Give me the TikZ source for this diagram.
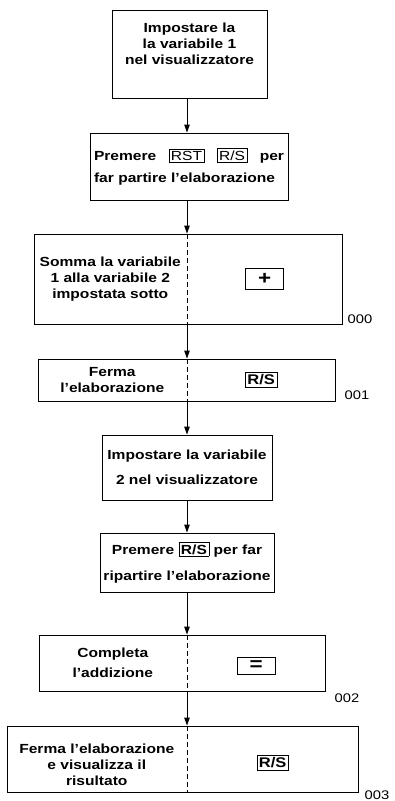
\documentclass[tikz,border=0pt]{standalone}
\usepackage{fontspec}
\setmainfont{Liberation Sans}[FakeStretch=1.18]
\usetikzlibrary{arrows.meta,calc,positioning}
\newcommand{\keybox}[1]{{\setlength{\fboxsep}{1.8pt}\setlength{\fboxrule}{0.6pt}\fbox{#1}}}
\newcommand{\bigsign}[1]{{\fontsize{19}{19}\selectfont #1}}
\tikzset{box/.style={draw,line width=0.9pt,inner sep=0pt},
  txt/.style={align=center,font=\fontsize{13.2}{16}\selectfont\bfseries,inner sep=0pt},
  keycap/.style={draw,line width=0.7pt,inner sep=2pt,font=\fontsize{14}{14}\selectfont\bfseries},
  num/.style={font=\fontsize{12.5}{12}\selectfont,inner sep=0pt,anchor=west},
  arr/.style={-{Triangle[length=8pt,width=5.5pt]},line width=1pt}}

\begin{document}
\begin{tikzpicture}[x=1pt,y=-1pt]
\useasboundingbox (0,0) rectangle (395,801);
\coordinate (axis) at (187,0);
% single boxes
\node[box,minimum width=155pt,minimum height=88pt] (b1) at (189.5,54) {};
\node[txt] (t1) at ([yshift=10pt]b1.center) {Impostare la\\la variabile 1\\nel visualizzatore};
\node[box,txt,align=left,text width=190pt,minimum width=198pt,minimum height=67pt] (b2) at (189,166.5)
  {Premere\hfill\keybox{\mdseries RST}\hfill\keybox{\mdseries R/S}\hfill per\\[6pt]far partire l'elaborazione};
\node[box,txt,minimum width=170pt,minimum height=65pt] (b5) at (187,467.5)
  {Impostare la variabile\\[9pt]2 nel visualizzatore};
\node[box,txt,minimum width=174pt,minimum height=59pt] (b6) at (187,562.5)
  {Premere \keybox{R/S} per far\\[10pt]ripartire l'elaborazione};
% split boxes
\node[box,minimum width=308pt,minimum height=90pt] (b3) at (188,279) {};
\node[box,minimum width=297pt,minimum height=42pt] (b4) at (186.5,380) {};
\node[box,minimum width=286pt,minimum height=56pt] (b7) at (182,663) {};
\node[box,minimum width=351pt,minimum height=66pt] (b8) at (182.5,759) {};
\node[txt] (t3) at ($(b3.west)!0.5!(b3.center -| axis)$) {Somma la variabile\\1 alla variabile 2\\impostata sotto};
\node[txt] (t4) at ($(b4.west)!0.5!(b4.center -| axis)$) {Ferma\\l'elaborazione};
\node[txt] (t7) at ($(b7.west)!0.5!(b7.center -| axis)$) {Completa\\[4pt]l'addizione};
\node[txt] (t8) at ([yshift=-6pt]$(b8.west)!0.5!(b8.center -| axis)$) {Ferma l'elaborazione\\e visualizza il\\risultato};
\node[keycap,inner sep=0pt,minimum width=38pt,minimum height=21pt] (k3) at ($(b3.east)!0.5!(b3.center -| axis)$) {\bigsign{+}};
\node[keycap] (k4) at ($(b4.east)!0.5!(b4.center -| axis)$) {R/S};
\node[keycap,inner sep=0pt,minimum width=38pt,minimum height=17pt] (k7) at ([yshift=-3pt]$(b7.east)!0.5!(b7.center -| axis)$) {\bigsign{=}};
\node[keycap] (k8) at ([yshift=-4pt]$(b8.east)!0.5!(b8.center -| axis)$) {R/S};
\foreach \b in {b3,b4,b7,b8}
  \draw[dash pattern=on 5pt off 3pt,line width=0.8pt] (\b.north -| axis) -- (\b.south -| axis);
% step numbers
\node[num] (n3) at ([xshift=5pt,yshift=5pt]b3.south east) {000};
\node[num] (n4) at ([xshift=9pt,yshift=6pt]b4.south east) {001};
\node[num] (n7) at ([xshift=9pt,yshift=-7pt]b7.south east) {002};
\node[num] (n8) at ([xshift=6pt,yshift=-3pt]b8.south east) {003};
% flow
\foreach \a/\b in {b1/b2,b2/b3,b3/b4,b4/b5,b5/b6,b6/b7,b7/b8}
  \draw[arr] (\a.south -| axis) -- (\b.north -| axis);
\end{tikzpicture}
\end{document}
